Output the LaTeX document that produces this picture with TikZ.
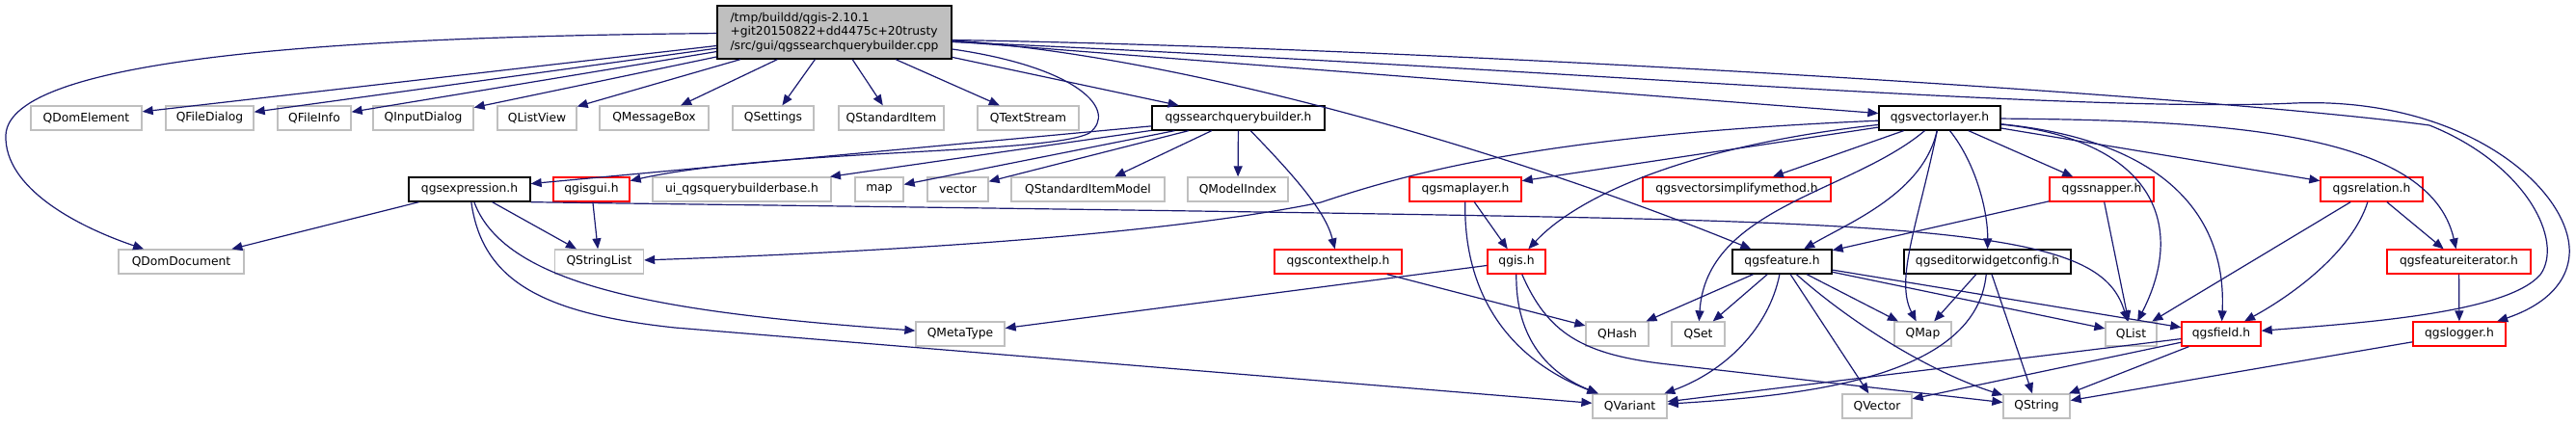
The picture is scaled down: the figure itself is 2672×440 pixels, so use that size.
\documentclass[tikz,border=0pt]{standalone}
\usepackage{fontspec}
\setmainfont{DejaVu Sans}
\usepackage{tikz}
\usetikzlibrary{
  arrows.meta,
  calc
}
\definecolor{igEdge}{HTML}{191970}
\definecolor{igGray}{HTML}{BFBFBF}
\definecolor{igRed}{HTML}{FF0000}
\definecolor{igRoot}{HTML}{BFBFBF}
\tikzset{
  ignode/.style={
    draw, rectangle, minimum height=25pt, inner sep=0pt, line width=1.3pt,
    fill=white, font=\fontsize{12.3}{14.7}\selectfont, align=center
  },
  extnode/.style={ignode, draw=igGray},
  docnode/.style={ignode, draw=black},
  undocnode/.style={ignode, draw=igRed},
  rootnode/.style={ignode, draw=black, fill=igRoot, minimum height=55pt, align=left},
  incl/.style={-{Triangle[length=11pt, width=9pt]}, line width=1.2pt, color=igEdge}
}

\begin{document}
\begin{tikzpicture}[x=1pt, y=-1pt]
  \useasboundingbox (0,0) rectangle (2672,440);
  % the source file
  \node[rootnode, minimum width=243pt] (src) at (865.5,33.5) {/tmp/buildd/qgis-2.10.1\\+git20150822+dd4475c+20trusty\\/src/gui/qgssearchquerybuilder.cpp};
  % row 1
  \node[extnode, minimum width=115pt] (qdomelement) at (89.5,122.5) {QDomElement};
  \node[extnode, minimum width=91pt] (qfiledialog) at (217.5,122.5) {QFileDialog};
  \node[extnode, minimum width=76pt] (qfileinfo) at (326,122.5) {QFileInfo};
  \node[extnode, minimum width=104pt] (qinputdialog) at (439,122.5) {QInputDialog};
  \node[extnode, minimum width=82pt] (qlistview) at (557,122.5) {QListView};
  \node[extnode, minimum width=113pt] (qmessagebox) at (678.5,122.5) {QMessageBox};
  \node[extnode, minimum width=84pt] (qsettings) at (802,122.5) {QSettings};
  \node[extnode, minimum width=109pt] (qstditem) at (924.5,122.5) {QStandardItem};
  \node[extnode, minimum width=105pt] (qtextstream) at (1066.5,122.5) {QTextStream};
  \node[docnode, minimum width=179pt] (sqbh) at (1284.5,122.5) {qgssearchquerybuilder.h};
  \node[docnode, minimum width=126pt] (qvlh) at (2012,122.5) {qgsvectorlayer.h};
  % row 2
  \node[docnode, minimum width=126pt] (qexprh) at (487,196.5) {qgsexpression.h};
  \node[undocnode, minimum width=79pt] (qgisguih) at (613.5,196.5) {qgisgui.h};
  \node[extnode, minimum width=185pt] (uiqbb) at (769.5,196.5) {ui\_qgsquerybuilderbase.h};
  \node[extnode, minimum width=50pt] (map) at (912,196.5) {map};
  \node[extnode, minimum width=63pt] (vector) at (993.5,196.5) {vector};
  \node[extnode, minimum width=159pt] (qstditemmodel) at (1128.5,196.5) {QStandardItemModel};
  \node[extnode, minimum width=104pt] (qmodelindex) at (1284,196.5) {QModelIndex};
  \node[undocnode, minimum width=116pt] (qmaplayerh) at (1520,196.5) {qgsmaplayer.h};
  \node[undocnode, minimum width=195pt] (qvsmh) at (1801.5,196.5) {qgsvectorsimplifymethod.h};
  \node[undocnode, minimum width=108pt] (qsnapperh) at (2180,196.5) {qgssnapper.h};
  \node[undocnode, minimum width=106pt] (qrelh) at (2460,196.5) {qgsrelation.h};
  % row 3
  \node[extnode, minimum width=130pt] (qdomdocument) at (188,271.5) {QDomDocument};
  \node[extnode, minimum width=92pt] (qstringlist) at (621.5,271.5) {QStringList};
  \node[undocnode, minimum width=132pt] (qctxh) at (1388,271.5) {qgscontexthelp.h};
  \node[undocnode, minimum width=60pt] (qgish) at (1573,271.5) {qgis.h};
  \node[docnode, minimum width=103pt] (qfeath) at (1848.5,271.5) {qgsfeature.h};
  \node[docnode, minimum width=173pt] (qewch) at (2061.5,271.5) {qgseditorwidgetconfig.h};
  \node[undocnode, minimum width=149pt] (qfiterh) at (2550.5,271.5) {qgsfeatureiterator.h};
  % row 4
  \node[extnode, minimum width=92pt] (qmetatype) at (996,346.5) {QMetaType};
  \node[extnode, minimum width=65pt] (qhash) at (1677.5,346.5) {QHash};
  \node[extnode, minimum width=55pt] (qset) at (1761.5,346.5) {QSet};
  \node[extnode, minimum width=59pt] (qmap) at (1994.5,346.5) {QMap};
  \node[extnode, minimum width=53pt] (qlist) at (2210.5,346.5) {QList};
  \node[undocnode, minimum width=82pt] (qfieldh) at (2304,346.5) {qgsfield.h};
  \node[undocnode, minimum width=96pt] (qloggerh) at (2551,346.5) {qgslogger.h};
  % row 5
  \node[extnode, minimum width=77pt] (qvariant) at (1690.5,421.5) {QVariant};
  \node[extnode, minimum width=72pt] (qvector) at (1947,421.5) {QVector};
  \node[extnode, minimum width=69pt] (qstring) at (2112.5,421.5) {QString};

  % straight includes
  \foreach \n in {qdomelement,qfiledialog,qfileinfo,qinputdialog,qlistview,qmessagebox,qsettings,qstditem,qtextstream,sqbh,qvlh}{\draw[incl] (src) -- (\n);}
  \foreach \n in {qexprh,uiqbb,map,vector,qstditemmodel,qmodelindex}{\draw[incl] (sqbh) -- (\n);}
  \foreach \n in {qdomdocument,qstringlist}{\draw[incl] (qexprh) -- (\n);}
  \foreach \n in {qmaplayerh,qvsmh,qsnapperh,qrelh}{\draw[incl] (qvlh) -- (\n);}
  \foreach \n in {qhash,qset,qvector,qmap,qlist,qfieldh}{\draw[incl] (qfeath) -- (\n);}
  \foreach \n in {qvariant,qvector,qstring}{\draw[incl] (qfieldh) -- (\n);}
  \foreach \n in {qfeath,qlist}{\draw[incl] (qsnapperh) -- (\n);}
  \foreach \n in {qlist,qfiterh}{\draw[incl] (qrelh) -- (\n);}
  \foreach \n in {qmap,qstring}{\draw[incl] (qewch) -- (\n);}
  \draw[incl] (qgisguih) -- (qstringlist);
  \draw[incl] (qmaplayerh) -- (qgish);
  \draw[incl] (qgish) -- (qmetatype);
  \draw[incl] (qctxh) -- (qhash);
  \draw[incl] (qfiterh) -- (qloggerh);
  \draw[incl] (qloggerh) -- (qstring);

  % curved includes
  \draw[incl] (src) .. controls (350,38) and (10,60) .. (6,140) .. controls (4,195) and (80,235) .. (qdomdocument);
  \draw[incl] (src) .. controls (1120,70) and (1160,115) .. (1130,138) .. controls (1090,160) and (800,155) .. (qgisguih);
  \draw[incl] (src) .. controls (1250,60) and (1600,170) .. (qfeath);
  \draw[incl] ($(src.east)+(0,8)$) .. controls (1500,50) and (2300,100) .. (2520,130) .. controls (2620,170) and (2660,250) .. (2635,285) .. controls (2600,325) and (2450,335) .. (qfieldh);
  \draw[incl] ($(src.east)+(0,10)$) .. controls (1600,70) and (2150,118) .. (2380,107) .. controls (2560,100) and (2670,200) .. (2665,265) .. controls (2662,300) and (2630,320) .. (qloggerh);
  \draw[incl] (sqbh) .. controls (1345,185) and (1375,220) .. (qctxh);
  \draw[incl] (qexprh) .. controls (525,300) and (700,325) .. (qmetatype);
  \draw[incl] (qexprh) .. controls (500,290) and (560,325) .. (700,340) -- (qvariant);
  \draw[incl] (qexprh.south east) .. controls (700,212) and (1400,220) .. (1700,227) .. controls (2100,237) and (2185,260) .. (qlist);
  \draw[incl] (qvlh) .. controls (1600,140) and (1460,180) .. (1370,210) .. controls (1200,245) and (900,262) .. (qstringlist);
  \draw[incl] (qvlh) .. controls (1760,150) and (1640,200) .. (qgish);
  \draw[incl] (qvlh) .. controls (1920,200) and (1770,215) .. (qset);
  \draw[incl] (qvlh) .. controls (1995,200) and (1920,230) .. (qfeath);
  \draw[incl] (qvlh) .. controls (1990,230) and (1965,290) .. (qmap);
  \draw[incl] (qvlh) .. controls (2050,170) and (2062,220) .. (qewch);
  \draw[incl] (qvlh) .. controls (2230,145) and (2270,230) .. (qlist);
  \draw[incl] (qvlh) .. controls (2240,145) and (2310,220) .. (qfieldh);
  \draw[incl] (qvlh) .. controls (2300,125) and (2520,135) .. (qfiterh);
  \draw[incl] (qmaplayerh) .. controls (1518,300) and (1560,370) .. (qvariant);
  \draw[incl] (qgish) .. controls (1572,345) and (1600,385) .. (qvariant);
  \draw[incl] (qgish) .. controls (1605,345) and (1640,368) .. (1730,378) -- (qstring);
  \draw[incl] (qrelh) .. controls (2440,260) and (2380,305) .. (qfieldh);
  \draw[incl] (qfeath) .. controls (1835,340) and (1790,385) .. (qvariant);
  \draw[incl] (qfeath) .. controls (1920,335) and (2000,385) .. (qstring);
  \draw[incl] (qewch) .. controls (2050,390) and (1880,410) .. (qvariant);
\end{tikzpicture}
\end{document}
